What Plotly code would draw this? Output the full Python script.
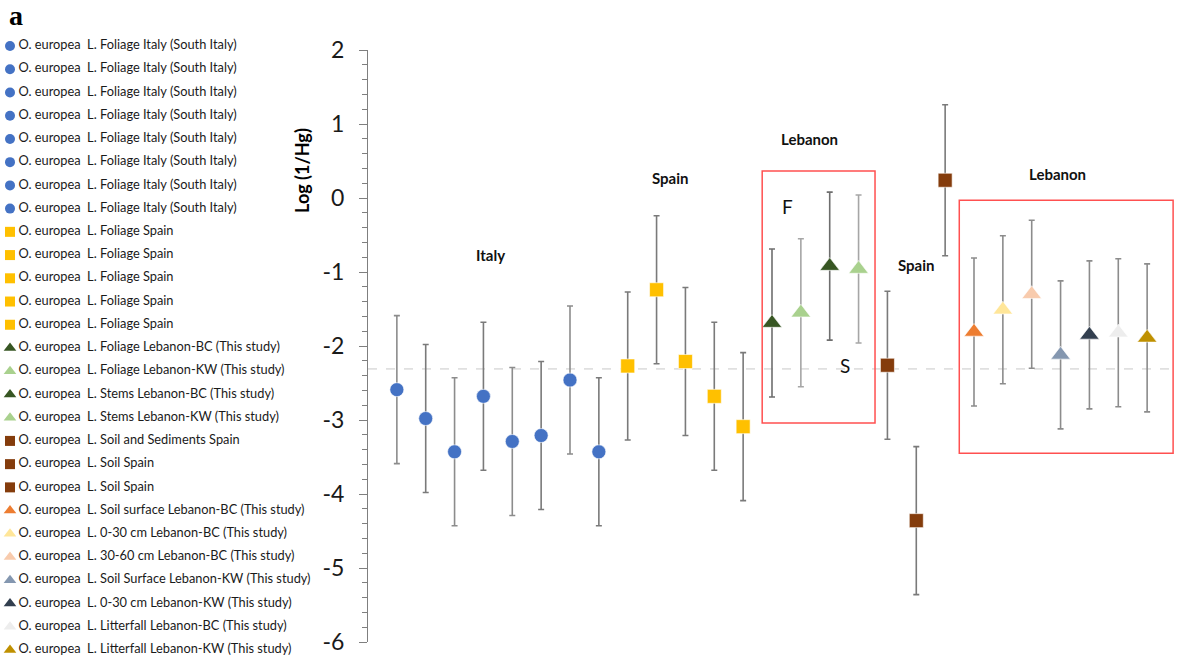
import plotly.graph_objects as go

# ---------------- data ----------------
labels = (
    ["O. europea  L. Foliage Italy (South Italy)"] * 8
    + ["O. europea  L. Foliage Spain"] * 5
    + ["O. europea  L. Foliage Lebanon-BC (This study)",
       "O. europea  L. Foliage Lebanon-KW (This study)",
       "O. europea  L. Stems Lebanon-BC (This study)",
       "O. europea  L. Stems Lebanon-KW (This study)",
       "O. europea  L. Soil and Sediments Spain",
       "O. europea  L. Soil Spain",
       "O. europea  L. Soil Spain",
       "O. europea  L. Soil surface Lebanon-BC (This study)",
       "O. europea  L. 0-30 cm Lebanon-BC (This study)",
       "O. europea  L. 30-60 cm Lebanon-BC (This study)",
       "O. europea  L. Soil Surface Lebanon-KW (This study)",
       "O. europea  L. 0-30 cm Lebanon-KW (This study)",
       "O. europea  L. Litterfall Lebanon-BC (This study)",
       "O. europea  L. Litterfall Lebanon-KW (This study)"]
)
positions = list(range(1, 28))
values = [-2.59, -2.98, -3.43, -2.68, -3.29, -3.21, -2.46, -3.43,
          -2.27, -1.24, -2.21, -2.68, -3.09,
          -1.69, -1.55, -0.92, -0.96,
          -2.26, -4.36, 0.24,
          -1.81, -1.51, -1.30, -2.12, -1.85, -1.82, -1.89]
errors = [1.0, 1.0, 1.0, 1.0, 1.0, 1.0, 1.0, 1.0,
          1.0, 1.0, 1.0, 1.0, 1.0,
          1.0, 1.0, 1.0, 1.0,
          1.0, 1.0, 1.02,
          1.0, 1.0, 1.0, 1.0, 1.0, 1.0, 1.0]
colors = (["#4472C4"] * 8 + ["#FFC000"] * 5
          + ["#375623", "#A9D18E", "#375623", "#A9D18E"]
          + ["#843C0C"] * 3
          + ["#ED7D31", "#FFE699", "#F8CBAD", "#8497B0", "#323F4F", "#EDEDED", "#BF9000"])
symbols = (["circle"] * 8 + ["square"] * 5 + ["triangle-up"] * 4
           + ["square"] * 3 + ["triangle-up"] * 7)
bar_colors = (["#8c8c8c", "#7a7a7a"] * 4 + ["#7a7a7a"] * 5
              + ["#6e6e6e", "#a6a6a6", "#6e6e6e", "#a6a6a6"]
              + ["#7a7a7a"] * 3 + ["#8c8c8c"] * 7)

reference_level = -2.31

group_labels = ["Italy", "Spain", "Lebanon", "Spain", "Lebanon"]
group_x = [4.26, 10.47, 15.29, 19.0, 23.88]
group_y = [-0.77, 0.27, 0.80, -0.905, 0.32]

sub_labels = ["F", "S"]
sub_x = [14.52, 16.53]
sub_y = [-0.12, -2.27]

boxes = [(13.66, 17.57, -3.04, 0.365), (20.49, 27.9, -3.45, -0.03)]

y_ticks = [2, 1, 0, -1, -2, -3, -4, -5, -6]
y_title = "Log (1/Hg)"

# ---------------- layout constants ----------------
W, H = 1182, 662
ML, MR, MT, MB = 0, 6, 30, 4
PW = W - ML - MR            # plot-area width in px
PH = H - MT - MB            # plot-area height in px
AXIS_X = 368                # pixel of the value axis
AX_TOP, AX_BOT = 50, 642    # pixel rows of y=2 and y=-6
TITLE_PX = (302, 171)       # centre of the y-axis title, px
FONT = "Lato"

# legend geometry (legend axes are scaled in pixels)
LEG_W = 355
LEG_TOP = 46                # first entry centre (px from top)
LEG_STEP = 23.23            # spacing between entries (px)

fig = go.Figure()

# ---------------- data marks ----------------
for i in range(len(values)):
    size = 17 if symbols[i] == "triangle-up" else 14
    fig.add_trace(go.Scatter(
        x=[positions[i]], y=[values[i]],
        mode="markers",
        name=labels[i],
        marker=dict(symbol=symbols[i], color=colors[i], size=size, opacity=1,
                    line=dict(color="white", width=0.6)),
        error_y=dict(type="data", array=[errors[i]], visible=True,
                     color=bar_colors[i], thickness=1.6, width=3),
        showlegend=False,
        xaxis="x", yaxis="y",
    ))

# ---------------- legend (drawn on its own pixel-scaled axes) ----------------
leg_idx = [-k for k in range(len(labels))]
leg_sizes = [11 if s == "triangle-up" else 10 for s in symbols]
fig.add_trace(go.Scatter(
    x=[10] * len(labels), y=leg_idx, mode="markers",
    marker=dict(symbol=symbols, color=colors, size=leg_sizes, opacity=1, line=dict(width=0)),
    xaxis="x2", yaxis="y2", showlegend=False, cliponaxis=False, hoverinfo="skip",
))
fig.add_trace(go.Scatter(
    x=[18.5] * len(labels), y=leg_idx, mode="text", text=labels,
    textposition="middle right",
    textfont=dict(family=FONT, size=12.8, color="#1a1a1a"),
    xaxis="x2", yaxis="y2", showlegend=False, cliponaxis=False, hoverinfo="skip",
))

# reference dashed line
fig.add_shape(type="line", xref="x domain", yref="y", x0=0, x1=1,
              y0=reference_level, y1=reference_level,
              line=dict(color="#c8c8c8", width=1, dash="dash"), layer="below")

for (x0, x1, y0, y1) in boxes:
    fig.add_shape(type="rect", xref="x", yref="y", x0=x0, x1=x1, y0=y0, y1=y1,
                  line=dict(color="#FF5050", width=1.5), fillcolor="rgba(0,0,0,0)")

for t, x, y in zip(group_labels, group_x, group_y):
    fig.add_annotation(x=x, y=y, xref="x", yref="y", text="<b>%s</b>" % t, showarrow=False,
                       font=dict(family=FONT, size=15, color="#111111"))
for t, x, y in zip(sub_labels, sub_x, sub_y):
    fig.add_annotation(x=x, y=y, xref="x", yref="y", text=t, showarrow=False,
                       font=dict(family=FONT, size=19, color="#111111"))

# y-axis title (placed high, as in the original)
fig.add_annotation(x=(TITLE_PX[0] - ML) / PW, y=(H - MB - TITLE_PX[1]) / PH,
                   xref="paper", yref="paper",
                   text="<b>%s</b>" % y_title, textangle=-90, showarrow=False,
                   xanchor="center", yanchor="middle",
                   font=dict(family=FONT, size=18, color="black"))

fig.add_annotation(xref="paper", yref="paper", x=7 / PW, y=(H - MB - 15) / PH, text="<b>a</b>",
                   showarrow=False, xanchor="left", yanchor="middle",
                   font=dict(family="Liberation Serif", size=28, color="black"))

# legend axis range so that entry k sits at LEG_TOP + k*LEG_STEP px
y2_top = (LEG_TOP - MT) / LEG_STEP
y2_bot = y2_top - PH / LEG_STEP

fig.update_layout(
    width=W, height=H,
    margin=dict(l=ML, r=MR, t=MT, b=MB, autoexpand=False),
    paper_bgcolor="white", plot_bgcolor="white",
    font=dict(family=FONT, color="#222222"),
    showlegend=False,
    xaxis=dict(domain=[AXIS_X / PW, 1], range=[0, 28], visible=False,
               showgrid=False, zeroline=False, anchor="y"),
    yaxis=dict(
        anchor="x",
        domain=[(H - MB - AX_BOT) / PH, (H - MB - AX_TOP) / PH],
        range=[-6, 2], tickvals=y_ticks, ticktext=[str(v) for v in y_ticks],
        showgrid=False, zeroline=False, automargin=False,
        showline=True, linecolor="#7f7f7f", linewidth=1.2,
        ticks="outside", ticklen=8, tickcolor="#7f7f7f", tickwidth=1.2,
        ticklabelstandoff=10,
        minor=dict(dtick=0.2, ticks="outside", ticklen=5, tickcolor="#7f7f7f", tickwidth=1),
        tickfont=dict(family=FONT, size=23, color="#1a1a1a"),
    ),
    xaxis2=dict(domain=[0, LEG_W / PW], range=[0, LEG_W], visible=False,
                anchor="y2", fixedrange=True),
    yaxis2=dict(domain=[0, 1], range=[y2_bot, y2_top], visible=False,
                anchor="x2", fixedrange=True),
)

fig.write_html("out.html", post_script="document.body.style.margin='0';",
               config={"displayModeBar": False})
